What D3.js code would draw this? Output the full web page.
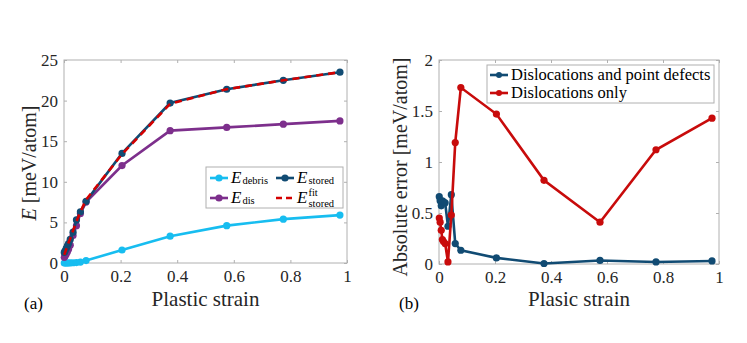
<!DOCTYPE html>
<html lang="en">
<head>
<meta charset="UTF-8">
<title>Stored energy and absolute error vs plastic strain</title>
<script src="https://d3js.org/d3.v7.min.js"></script>
<style>
    body { margin: 0; background: #fff; }
    svg { display: block; }
    svg text { font-family: "Liberation Serif", "DejaVu Serif", serif; }
    .tick text { fill: #262626; font-size: 17px; }
    .box { fill: none; stroke: #b0b0b0; stroke-width: 1; }
</style>
</head>
<body>
<svg width="747" height="343"></svg>
<script>
    // shared plastic strain sampling
    const strain = [0.001, 0.004, 0.008, 0.012, 0.016, 0.022, 0.032, 0.044, 0.058, 0.078, 0.205, 0.375, 0.575, 0.775, 0.975];

    // panel (a): energies [meV/atom]
    const eDebris = [0.0, 0.0, 0.0, 0.0, 0.0, 0.02, 0.03, 0.05, 0.12, 0.3, 1.6, 3.3, 4.6, 5.4, 5.9];
    const eDis    = [0.7, 0.85, 1.1, 1.4, 1.7, 2.2, 3.4, 4.6, 6.1, 7.5, 12.0, 16.3, 16.7, 17.1, 17.5];
    const eStored = [1.3, 1.5, 1.8, 2.1, 2.4, 2.9, 3.8, 5.3, 6.3, 7.6, 13.5, 19.7, 21.4, 22.5, 23.5];
    const eFit    = [1.0, 1.3, 1.7, 2.1, 2.5, 3.0, 4.0, 5.1, 6.3, 7.8, 13.4, 19.6, 21.4, 22.5, 23.5];

    // panel (b): absolute error [meV/atom]
    const errBoth = [0.66, 0.62, 0.57, 0.62, 0.61, 0.60, 0.37, 0.68, 0.20, 0.135, 0.06, 0.005, 0.035, 0.02, 0.03];
    const errDis  = [0.45, 0.41, 0.33, 0.24, 0.22, 0.20, 0.02, 0.48, 1.19, 1.73, 1.47, 0.82, 0.41, 1.12, 1.43];

    const xTicks = [0, 0.2, 0.4, 0.6, 0.8, 1];
    const yTicksA = [0, 5, 10, 15, 20, 25];
    const yTicksB = [0, 0.5, 1, 1.5, 2];

    const cDebris = "#17bdf0", cStored = "#114b73", cDis = "#7d2f8c", cFit = "#d40000";
    const cBoth = "#114b73", cOnly = "#c80b0b";

    const svg = d3.select("svg");

    function drawPanel(p) {
        const g = svg.append("g");
        const x = d3.scaleLinear().domain([0, 1]).range([p.left, p.right]);
        const y = d3.scaleLinear().domain(p.yDomain).range([p.bottom, p.top]);

        // box and inward ticks on all sides
        g.append("rect").attr("class", "box")
            .attr("x", p.left).attr("y", p.top)
            .attr("width", p.right - p.left).attr("height", p.bottom - p.top);

        const xAxis = d3.axisBottom(x).tickValues(xTicks).tickSize(-3).tickPadding(7)
            .tickFormat(d => d === 0 || d === 1 ? d : d3.format(".1f")(d));
        g.append("g").attr("transform", `translate(0,${p.bottom})`).call(xAxis);
        g.append("g").attr("transform", `translate(0,${p.top})`)
            .call(d3.axisTop(x).tickValues(xTicks).tickSize(-3).tickFormat(""));

        const yAxis = d3.axisLeft(y).tickValues(p.yTicks).tickSize(-3).tickPadding(6)
            .tickFormat(p.yFormat);
        g.append("g").attr("transform", `translate(${p.left},0)`).call(yAxis);
        g.append("g").attr("transform", `translate(${p.right},0)`)
            .call(d3.axisRight(y).tickValues(p.yTicks).tickSize(-3).tickFormat(""));

        g.selectAll(".domain").remove();
        g.selectAll("g").attr("font-family", null).attr("font-size", null);
        g.selectAll(".tick line").attr("stroke", "#b0b0b0");

        // series
        const line = d3.line().x(d => x(d[0])).y(d => y(d[1]));
        p.series.forEach(s => {
            const pts = strain.map((v, i) => [v, s.values[i]]);
            g.append("path").datum(pts)
                .attr("fill", "none").attr("stroke", s.color)
                .attr("stroke-width", 2.6)
                .attr("stroke-dasharray", s.dash || null)
                .attr("d", line);
            if (s.markers) {
                g.selectAll(null).data(pts).enter().append("circle")
                    .attr("cx", d => x(d[0])).attr("cy", d => y(d[1]))
                    .attr("r", 3.6).attr("fill", s.color);
            }
        });

        // labels
        svg.append("text").attr("x", (p.left + p.right) / 2).attr("y", 306)
            .attr("text-anchor", "middle").attr("font-size", 21).attr("fill", "#262626")
            .text(p.xLabel);
        svg.append("text").attr("x", p.tagX).attr("y", 309)
            .attr("font-size", 17).attr("fill", "#000").text(p.tag);
        return { g, x, y };
    }

    drawPanel({
        left: 64, right: 347, top: 60, bottom: 263,
        yDomain: [0, 25], yTicks: yTicksA, yFormat: d => d,
        xLabel: "Plastic strain", tag: "(a)", tagX: 24,
        series: [
            { values: eDebris, color: cDebris, markers: true },
            { values: eDis, color: cDis, markers: true },
            { values: eStored, color: cStored, markers: true },
            { values: eFit, color: cFit, dash: "7,5" }
        ]
    });

    drawPanel({
        left: 439, right: 719, top: 60, bottom: 264,
        yDomain: [0, 2], yTicks: yTicksB, yFormat: d => d,
        xLabel: "Plasic strain", tag: "(b)", tagX: 399,
        series: [
            { values: errBoth, color: cBoth, markers: true },
            { values: errDis, color: cOnly, markers: true }
        ]
    });

    // y labels
    const yl = svg.append("text").attr("transform", "translate(36,163) rotate(-90)")
        .attr("text-anchor", "middle").attr("font-size", 20).attr("fill", "#262626");
    yl.append("tspan").attr("font-style", "italic").text("E");
    yl.append("tspan").text(" [meV/atom]");

    svg.append("text").attr("transform", "translate(407,167) rotate(-90)")
        .attr("text-anchor", "middle").attr("font-size", 20).attr("fill", "#262626")
        .text("Absolute error [meV/atom]");

    // legend (a)
    const legA = svg.append("g");
    legA.append("rect").attr("x", 206).attr("y", 167).attr("width", 137).attr("height", 41)
        .attr("fill", "#fff").attr("stroke", "#b0b0b0");
    function legendEntry(g, lx, ly, color, dash, marker, main, sub, sup) {
        g.append("line").attr("x1", lx).attr("x2", lx + 18).attr("y1", ly).attr("y2", ly)
            .attr("stroke", color).attr("stroke-width", 2.6).attr("stroke-dasharray", dash || null);
        if (marker) g.append("circle").attr("cx", lx + 9).attr("cy", ly).attr("r", 3.6).attr("fill", color);
        const t = g.append("text").attr("x", lx + 21).attr("y", ly + 5)
            .attr("font-size", 17).attr("font-style", "italic").attr("fill", "#000").text(main);
        const w = t.node().getComputedTextLength();
        if (sub) g.append("text").attr("x", lx + 21 + w + 1).attr("y", ly + (sup ? 9 : 6))
            .attr("font-size", 10.5).attr("fill", "#000").text(sub);
        if (sup) g.append("text").attr("x", lx + 21 + w + 1).attr("y", ly - 2)
            .attr("font-size", 10.5).attr("fill", "#000").text(sup);
    }
    legendEntry(legA, 210, 178, cDebris, null, true, "E", "debris");
    legendEntry(legA, 276, 178, cStored, null, true, "E", "stored");
    legendEntry(legA, 210, 198, cDis, null, true, "E", "dis");
    legendEntry(legA, 276, 198, cFit, "6,4", false, "E", "stored", "fit");

    // legend (b)
    const legB = svg.append("g");
    legB.append("rect").attr("x", 487).attr("y", 65).attr("width", 227).attr("height", 38)
        .attr("fill", "#fff").attr("stroke", "#b0b0b0");
    [["Dislocations and point defects", cBoth, 75], ["Dislocations only", cOnly, 93]].forEach(([txt, c, ly]) => {
        legB.append("line").attr("x1", 490).attr("x2", 508).attr("y1", ly).attr("y2", ly)
            .attr("stroke", c).attr("stroke-width", 2.6);
        legB.append("circle").attr("cx", 499).attr("cy", ly).attr("r", 3).attr("fill", c);
        legB.append("text").attr("x", 511).attr("y", ly + 5).attr("font-size", 16.5)
            .attr("fill", "#000").text(txt);
    });
</script>
</body>
</html>
